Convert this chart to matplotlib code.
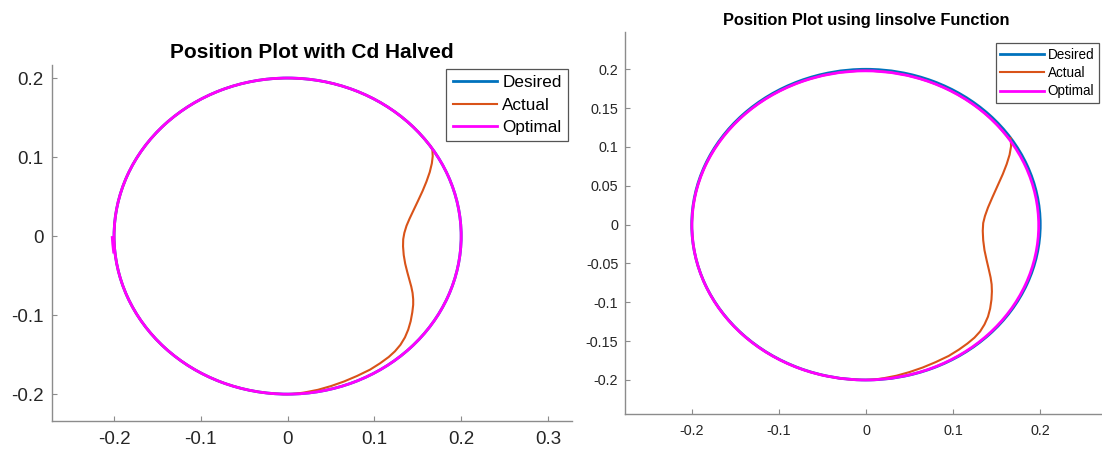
import matplotlib
matplotlib.use('Agg')
import matplotlib.pyplot as plt
from matplotlib.patches import Arc
from matplotlib.lines import Line2D

plt.rcParams['font.family'] = ['Liberation Sans', 'DejaVu Sans']

# ---------------- data ----------------
series_labels = ['Desired', 'Actual', 'Optimal']
titles = ['Position Plot with Cd Halved', 'Position Plot using linsolve Function']

# Desired trajectory: circle (centre x, centre y, radius)
des_circle = (0.0, 0.0, 0.2)

# Left panel (Cd halved)
# Actual: follows the circle from its re-join angle round to the bottom (degrees) ...
actL_arc = (33.1, 270.0)
# ... and this off-circle path from the bottom back up to the re-join point
actL_x = [0.000, 0.010, 0.020, 0.035, 0.050, 0.065, 0.080, 0.095, 0.1065, 0.1165,
          0.1237, 0.1300, 0.1352, 0.1390, 0.1418, 0.1437, 0.1447, 0.1447, 0.1440, 0.1425,
          0.1405, 0.1380, 0.1355, 0.1338, 0.1330, 0.1332, 0.1345, 0.1370, 0.1405, 0.1448,
          0.1500, 0.1555, 0.1600, 0.1638, 0.1662, 0.1672, 0.1668]
actL_y = [-0.2000, -0.1994, -0.1978, -0.1945, -0.1898, -0.1840, -0.1770, -0.1690, -0.1610, -0.1530,
          -0.1458, -0.1376, -0.1282, -0.1183, -0.1077, -0.0963, -0.0870, -0.0800, -0.0720, -0.0640,
          -0.0560, -0.0460, -0.0350, -0.0240, -0.0130, -0.0040, 0.0040, 0.0130, 0.0220, 0.0320,
          0.0440, 0.0570, 0.0690, 0.0810, 0.0920, 0.1010, 0.1089]
optL_circle = (0.0, 0.0, 0.2)
optL_start_x = [-0.2022, -0.2015, -0.2003]
optL_start_y = [0.0000, -0.0100, -0.0220]

# Right panel (linsolve)
actR_arc = (34.2, 270.0)
actR_x = [0.000, 0.010, 0.020, 0.035, 0.050, 0.065, 0.080, 0.095, 0.1065, 0.1165,
          0.1245, 0.1310, 0.1360, 0.1400, 0.1425, 0.1440, 0.1445, 0.1442, 0.1430, 0.1410,
          0.1385, 0.1360, 0.1345, 0.1340, 0.1345, 0.1365, 0.1400, 0.1450, 0.1510, 0.1570,
          0.1615, 0.1648, 0.1665, 0.1662, 0.1657]
actR_y = [-0.2000, -0.1994, -0.1978, -0.1945, -0.1898, -0.1840, -0.1770, -0.1690, -0.1610, -0.1530,
          -0.1455, -0.1375, -0.1285, -0.1185, -0.1080, -0.0965, -0.0860, -0.0770, -0.0680, -0.0580,
          -0.0460, -0.0330, -0.0200, -0.0080, 0.0020, 0.0110, 0.0220, 0.0350, 0.0500, 0.0650,
          0.0780, 0.0900, 0.1010, 0.1080, 0.1128]
optR_circle = (-0.0008, -0.0010, 0.1990)

xticksL = [-0.2, -0.1, 0, 0.1, 0.2, 0.3]
xlabelsL = ['-0.2', '-0.1', '0', '0.1', '0.2', '0.3']
yticksL = [-0.2, -0.1, 0, 0.1, 0.2]
ylabelsL = ['-0.2', '-0.1', '0', '0.1', '0.2']
xticksR = [-0.2, -0.1, 0, 0.1, 0.2]
xlabelsR = ['-0.2', '-0.1', '0', '0.1', '0.2']
yticksR = [-0.2, -0.15, -0.1, -0.05, 0, 0.05, 0.1, 0.15, 0.2]
ylabelsR = ['-0.2', '-0.15', '-0.1', '-0.05', '0', '0.05', '0.1', '0.15', '0.2']

# ---------------- styling ----------------
C_DES = '#0072BD'
C_ACT = '#D95319'
C_OPT = '#FF00FF'
AX_COL = '#8c8c8c'
TXT_COL = '#262626'
LW_DES, LW_ACT, LW_OPT = 2.0, 1.5, 2.0

W, H = 1102, 455
fig = plt.figure(figsize=(W / 100, H / 100), dpi=100)
axL = fig.add_axes([52 / W, 34 / H, 520 / W, 356 / H])
axR = fig.add_axes([625 / W, 40.7 / H, 482 / W, 382.6 / H])


def circle_arc(ax, circ, th1, th2, color, lw, z):
    cx, cy, r = circ
    ax.add_patch(Arc((cx, cy), 2 * r, 2 * r, theta1=th1, theta2=th2,
                     edgecolor=color, lw=lw, zorder=z, capstyle='butt', joinstyle='round'))


def draw(ax, act_arc, ax_, ay_, opt_circ):
    kw = dict(solid_joinstyle='round', solid_capstyle='butt')
    circle_arc(ax, des_circle, 0, 360, C_DES, LW_DES, 2.0)
    # the on-circle part of the actual path lies under the optimal path
    circle_arc(ax, opt_circ, act_arc[0], act_arc[1], C_ACT, LW_ACT, 2.1)
    ax.plot(ax_, ay_, color=C_ACT, lw=LW_ACT, zorder=2.1, **kw)
    circle_arc(ax, opt_circ, 0, 360, C_OPT, LW_OPT, 2.2)
    for s in ('top', 'right'):
        ax.spines[s].set_visible(False)
    for s in ('left', 'bottom'):
        ax.spines[s].set_color(AX_COL)
        ax.spines[s].set_linewidth(1.0)


draw(axL, actL_arc, actL_x, actL_y, optL_circle)
axL.plot(optL_start_x, optL_start_y, color=C_OPT, lw=LW_OPT, zorder=2.2,
         solid_capstyle='butt', solid_joinstyle='round')
draw(axR, actR_arc, actR_x, actR_y, optR_circle)

# left axes
axL.set_xlim(-0.2715, 0.3277)
axL.set_ylim(-0.234, 0.2165)
axL.set_xticks(xticksL, xlabelsL)
axL.set_yticks(yticksL, ylabelsL)
axL.tick_params(axis='both', direction='in', length=3.6, width=0.8, color=AX_COL,
                labelcolor=TXT_COL, labelsize=13.5)
axL.tick_params(axis='y', pad=6.3)
axL.tick_params(axis='x', pad=7.5)
axL.set_title(titles[0], fontsize=15, fontweight='bold', pad=5.4, color='#000000')

# right axes
axR.set_xlim(-0.2766, 0.2766)
axR.set_ylim(-0.2442, 0.2484)
axR.set_xticks(xticksR, xlabelsR)
axR.set_yticks(yticksR, ylabelsR)
axR.tick_params(axis='both', direction='in', length=3.6, width=0.8, color=AX_COL,
                labelcolor=TXT_COL, labelsize=10.4)
axR.tick_params(axis='y', pad=4.8)
axR.tick_params(axis='x', pad=6.7)
axR.set_title(titles[1], fontsize=11.8, fontweight='bold', pad=4.8, color='#000000')

# legends
handles = [Line2D([], [], color=C_DES, lw=LW_DES),
           Line2D([], [], color=C_ACT, lw=LW_ACT),
           Line2D([], [], color=C_OPT, lw=LW_OPT)]
legL = axL.legend(handles, series_labels, loc='upper right',
                  bbox_to_anchor=(567.7 / W, 1 - 69.3 / H),
                  bbox_transform=fig.transFigure, borderaxespad=0, fontsize=12.3,
                  handlelength=2.6, handletextpad=0.3, borderpad=0.36, labelspacing=0.42,
                  fancybox=False, framealpha=1, edgecolor='#555555')
legL.get_frame().set_linewidth(0.9)
legR = axR.legend(handles, series_labels, loc='upper right',
                  bbox_to_anchor=(1099 / W, 1 - 43 / H),
                  bbox_transform=fig.transFigure, borderaxespad=0, fontsize=9.75,
                  handlelength=3.2, handletextpad=0.3, borderpad=0.35, labelspacing=0.32,
                  fancybox=False, framealpha=1, edgecolor='#555555')
legR.get_frame().set_linewidth(0.9)
for leg in (legL, legR):
    for t in leg.get_texts():
        t.set_color('#000000')

fig.savefig('out.png', dpi=100)
